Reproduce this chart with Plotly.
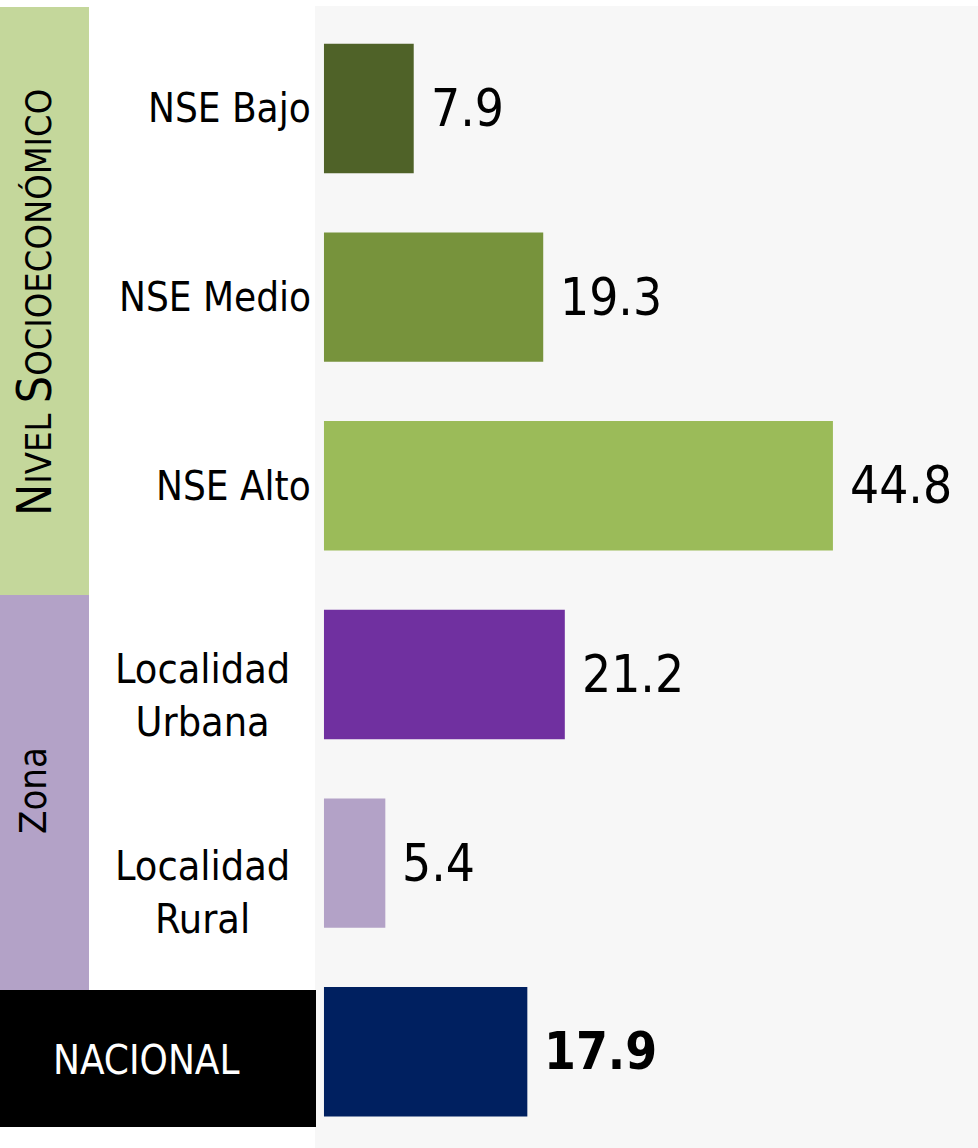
import plotly.graph_objects as go

categories = ["NSE Bajo", "NSE Medio", "NSE Alto", "Localidad Urbana", "Localidad Rural", "NACIONAL"]
tick_labels = ["NSE Bajo", "NSE Medio", "NSE Alto", "Localidad<br>Urbana", "Localidad<br>Rural", ""]
values = [7.9, 19.3, 44.8, 21.2, 5.4, 17.9]
value_labels = ["7.9", "19.3", "44.8", "21.2", "5.4", "<b>17.9</b>"]
bar_colors = ["#4f6228", "#77933c", "#9bbb59", "#7030a0", "#b3a2c7", "#002060"]

FONT = "DejaVu Sans Condensed, DejaVu Sans, sans-serif"
W, H = 978, 1148
L, R, T, B = 315, 0, 6, 0
PW, PH = W - L - R, H - T - B


def px_x(p):
    return (p - L) / PW


def px_y(p):
    return (H - B - p) / PH


fig = go.Figure()
fig.add_trace(go.Bar(
    y=categories, x=values, orientation="h",
    marker=dict(color=bar_colors, line=dict(width=0)),
    width=0.686, showlegend=False, hoverinfo="x+y",
))

annotations = []
# value labels
for c, v, t in zip(categories, values, value_labels):
    annotations.append(dict(x=v, y=c, xref="x", yref="y", text=t, showarrow=False,
                            xanchor="left", yanchor="middle", xshift=15,
                            font=dict(family=FONT, size=51, color="#000000")))
# category labels
yshifts = [0, 0, 0, -21, -29, 0]
for i, (c, lab) in enumerate(zip(categories, tick_labels)):
    if not lab:
        continue
    if "<br>" in lab:
        annotations.append(dict(x=px_x(202), y=c, xref="paper", yref="y", text=lab,
                                showarrow=False, xanchor="center", yanchor="middle",
                                align="center", yshift=yshifts[i],
                                font=dict(family=FONT, size=41, color="#000000")))
    else:
        annotations.append(dict(x=px_x(313), y=c, xref="paper", yref="y", text=lab,
                                showarrow=False, xanchor="right", yanchor="middle",
                                yshift=yshifts[i],
                                font=dict(family=FONT, size=40, color="#000000")))

# group labels
nse_text = ('<span style="font-size:48px">N</span>IVEL '
            '<span style="font-size:48px">S</span>OCIOECONÓMICO')
annotations.append(dict(x=px_x(34), y=px_y(303), xref="paper", yref="paper", text=nse_text,
                        showarrow=False, textangle=-90, xanchor="center", yanchor="middle",
                        font=dict(family=FONT, size=36, color="#000000")))
annotations.append(dict(x=px_x(33), y=px_y(791), xref="paper", yref="paper", text="Zona",
                        showarrow=False, textangle=-90, xanchor="center", yanchor="middle",
                        font=dict(family=FONT, size=38, color="#000000")))
annotations.append(dict(x=px_x(146), y=px_y(1060), xref="paper", yref="paper", text="NACIONAL",
                        showarrow=False, xanchor="center", yanchor="middle",
                        font=dict(family=FONT, size=40, color="#ffffff")))

shapes = [
    dict(type="rect", xref="paper", yref="paper", x0=px_x(0), x1=px_x(89),
         y0=px_y(7), y1=px_y(595), fillcolor="#c4d79b", line=dict(width=0), layer="below"),
    dict(type="rect", xref="paper", yref="paper", x0=px_x(0), x1=px_x(89),
         y0=px_y(595), y1=px_y(990), fillcolor="#b3a2c7", line=dict(width=0), layer="below"),
    dict(type="rect", xref="paper", yref="paper", x0=px_x(0), x1=px_x(316),
         y0=px_y(990), y1=px_y(1127), fillcolor="#000000", line=dict(width=0), layer="above"),
]

fig.update_layout(
    width=W, height=H,
    margin=dict(l=L, r=R, t=T, b=B, pad=0),
    paper_bgcolor="#ffffff", plot_bgcolor="#f7f7f7",
    xaxis=dict(range=[-0.79, 57.57], showgrid=False, zeroline=False, showticklabels=False,
               ticks="", showline=False),
    yaxis=dict(categoryorder="array", categoryarray=categories, range=[5.51, -0.543],
               showgrid=False, zeroline=False, showticklabels=False, ticks="", showline=False),
    annotations=annotations, shapes=shapes,
    font=dict(family=FONT),
)

fig.write_html("out.html", config={"displayModeBar": False},
               post_script="document.body.style.margin='0';")
